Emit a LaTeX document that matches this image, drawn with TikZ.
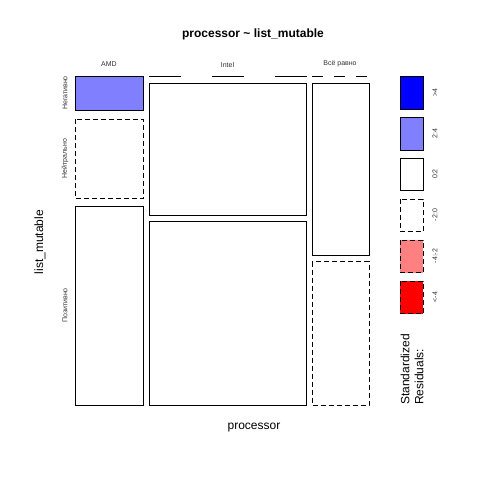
\documentclass[tikz,border=0pt]{standalone}
\usepackage{fontspec}
\setmainfont{Liberation Sans}
\definecolor{lblue}{RGB}{128,128,255}
\definecolor{lred}{RGB}{255,128,128}
\definecolor{fblue}{RGB}{0,0,255}
\definecolor{fred}{RGB}{255,0,0}
\begin{document}
\begin{tikzpicture}[x=1pt,y=-1pt,
  cell/.style={draw=black,line width=1pt},
  negcell/.style={cell,dash pattern=on 5pt off 3pt},
  small/.style={font=\fontsize{7}{8}\selectfont,text=black!80},
  big/.style={font=\fontsize{12}{14}\selectfont},
  lgd/.style={cell}]
\useasboundingbox (0,0) rectangle (480,480);
\fill[white] (0,0) rectangle (480,480);
% title
\node[font=\bfseries\fontsize{12}{14}\selectfont] (title) at (253,34) {processor \textasciitilde{} list\_mutable};
% cells
\draw[cell,fill=lblue] (75,76.5) rectangle (143.5,110);
\draw[negcell] (75,119) rectangle (143.5,198);
\draw[cell] (75,206) rectangle (143.5,405);
\coordinate (i1) at (149,76);
\coordinate (i2) at (306.5,76);
\draw[line width=1pt,dash pattern=on 32pt off 31pt] (i1) -- (i2);
\draw[cell] (149,83) rectangle (306.5,215);
\draw[cell] (149,221.5) rectangle (306.5,405);
\coordinate (v1) at (312,76);
\coordinate (v2) at (369,76);
\draw[line width=1pt,dash pattern=on 11pt off 11pt] (v1) -- (v2);
\draw[cell] (312,83) rectangle (369,255);
\draw[negcell] (312,261.5) rectangle (369,405);
% column labels
\node[small] (cAMD) at (109,64) {AMD};
\node[small] (cInt) at (227.5,64.5) {Intel};
\node[small] (cAll) at (340,64) {Всё равно};
% row labels
\node[small,rotate=90] (rNeg) at (65,93) {Негативно};
\node[small,rotate=90] (rNeu) at (65,158.5) {Нейтрально};
\node[small,rotate=90] (rPos) at (65,305.5) {Позитивно};
% axis labels
\node[big] (xlab) at (254,428) {processor};
\node[big,rotate=90] (ylab) at (40,242) {list\_mutable};
% legend
\draw[lgd,fill=fblue] (400,76) rectangle (423,109);
\draw[lgd,fill=lblue] (400,117) rectangle (423,150);
\draw[lgd,fill=white] (400,158) rectangle (423,190.5);
\draw[negcell,fill=white] (400,199) rectangle (423,231.5);
\draw[negcell,fill=lred] (400,240) rectangle (423,272.5);
\draw[negcell,fill=fred] (400,281) rectangle (423,313.5);
\node[small,rotate=90] (l1) at (435,92.5) {>4};
\node[small,rotate=90] (l2) at (435,133.5) {2:4};
\node[small,rotate=90] (l3) at (435,174) {0:2};
\node[small,rotate=90] (l4) at (435,215) {-2:0};
\node[small,rotate=90] (l5) at (435,256) {-4:-2};
\node[small,rotate=90] (l6) at (435,297) {<-4};
\node[big,rotate=90,anchor=west,inner sep=0pt] (s1) at (405,405) {Standardized};
\node[big,rotate=90,anchor=west,inner sep=0pt] (s2) at (419,405) {Residuals:};
\end{tikzpicture}
\end{document}
